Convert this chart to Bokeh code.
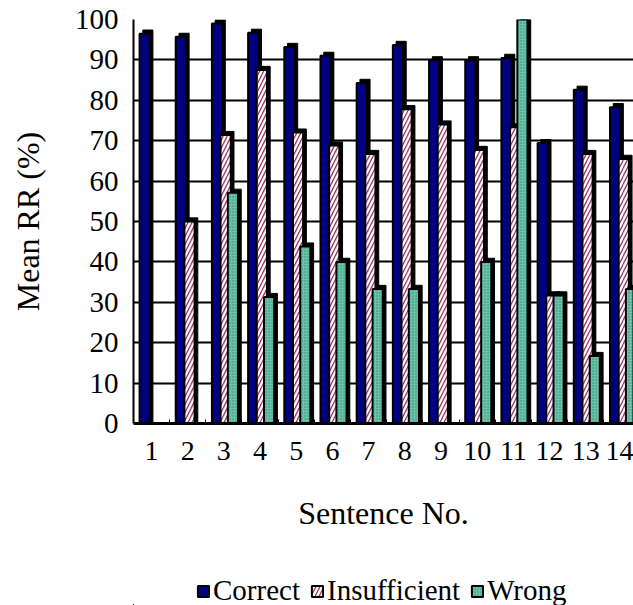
from bokeh.plotting import figure
from bokeh.layouts import column
from bokeh.models import ColumnDataSource, Range1d, FixedTicker, Legend, LegendItem
from bokeh.transform import dodge
from bokeh.embed import file_html
from bokeh.resources import INLINE

# ---- data ----
sentences = list(range(1, 15))
tick_labels = [str(s) for s in sentences]
correct = [96.5, 95.7, 99.0, 96.7, 93.2, 91.0, 84.3, 93.7, 89.9, 89.9, 90.5, 69.4, 82.6, 78.3]
insufficient = [0, 50.0, 71.4, 87.5, 72.0, 68.8, 66.7, 77.8, 74.0, 67.7, 73.3, 31.7, 66.7, 65.5]
wrong = [0, 0, 57.1, 31.3, 43.8, 40.0, 33.3, 33.3, 0, 40.0, 100.0, 31.7, 16.7, 33.3]
series_names = ["Correct", "Insufficient", "Wrong"]

FONT = "Liberation Serif"
DEPTH = 0.9  # 3-D depth in y units for the shadow face

def shadow(vals):
    return [v + DEPTH if v > 0 else 0 for v in vals]

src = ColumnDataSource(dict(
    x=sentences,
    correct=correct, insufficient=insufficient, wrong=wrong,
    correct_s=shadow(correct), insufficient_s=shadow(insufficient), wrong_s=shadow(wrong),
))

MAIN_H = 545
p = figure(width=633, height=MAIN_H, output_backend="svg", toolbar_location=None,
           x_range=Range1d(0.503, 14.32), y_range=Range1d(0, 100),
           min_border_left=133, min_border_right=0, min_border_top=19,
           min_border_bottom=MAIN_H - 423)
p.outline_line_color = None
p.background_fill_color = "white"
p.border_fill_color = "white"

# gridlines
p.xgrid.grid_line_color = None
p.ygrid.grid_line_color = "black"
p.ygrid.grid_line_width = 2
p.ygrid.ticker = FixedTicker(ticks=list(range(0, 101, 10)))

offsets = [-0.19, 0.05, 0.25]
W = 0.28
styles = [
    dict(fill_color="#000080"),
    dict(fill_color="white", hatch_pattern="/", hatch_color="#993366", hatch_weight=1.3, hatch_scale=8),
    dict(fill_color="#6cc2aa", hatch_pattern=".", hatch_color="#2a8f7a", hatch_scale=3, hatch_weight=1),
]
cols = ["correct", "insufficient", "wrong"]
for name, col, off, st in zip(series_names, cols, offsets, styles):
    p.vbar(x=dodge("x", off + 0.09, range=p.x_range), top=col + "_s", width=W, bottom=0,
           source=src, fill_color="black", line_color="black", line_width=1)
    p.vbar(x=dodge("x", off, range=p.x_range), top=col, width=W, bottom=0,
           source=src, line_color="black", line_width=2, **st)

# axes
yax = p.yaxis[0]
yax.ticker = FixedTicker(ticks=list(range(0, 101, 10)))
yax.axis_line_color = "black"
yax.axis_line_width = 2
yax.major_tick_in = 0
yax.major_tick_out = 0
yax.minor_tick_line_color = None
yax.major_label_standoff = 15
yax.major_label_text_font = FONT
yax.major_label_text_font_size = "29px"
yax.major_label_text_color = "black"
yax.axis_label = "Mean RR (%)"
yax.axis_label_text_font = FONT
yax.axis_label_text_font_size = "32px"
yax.axis_label_text_font_style = "normal"
yax.axis_label_text_color = "black"
yax.axis_label_standoff = 26

xax = p.xaxis[0]
xax.ticker = FixedTicker(ticks=sentences, minor_ticks=[s + 0.5 for s in [0] + sentences])
xax.major_label_overrides = {s: t for s, t in zip(sentences, tick_labels)}
xax.axis_line_color = "black"
xax.axis_line_width = 3
xax.major_tick_line_color = None
xax.minor_tick_in = 4
xax.minor_tick_out = 0
xax.minor_tick_line_color = "black"
xax.minor_tick_line_width = 1
xax.major_label_standoff = 12
xax.major_label_text_font = FONT
xax.major_label_text_font_size = "28px"
xax.major_label_text_color = "black"
xax.axis_label = "Sentence No."
xax.axis_label_text_font = FONT
xax.axis_label_text_font_size = "32px"
xax.axis_label_text_font_style = "normal"
xax.axis_label_text_color = "black"
xax.axis_label_standoff = 32

# ---- legend strip (separate figure, renderers share the data, out of view) ----
LEG_H = 605 - MAIN_H
pl = figure(width=633, height=LEG_H, output_backend="svg", toolbar_location=None,
            x_axis_location=None, y_axis_location=None,
            x_range=Range1d(100, 101), y_range=Range1d(1000, 1001),
            min_border_left=0, min_border_right=0, min_border_top=0, min_border_bottom=0)
pl.grid.grid_line_color = None
pl.outline_line_color = None
items = []
for name, col, st in zip(series_names, cols, styles):
    r = pl.vbar(x="x", top=col, width=W, bottom=0, source=src,
                line_color="black", line_width=2, **st)
    items.append(LegendItem(label=name, renderers=[r]))
legend = Legend(items=items, orientation="horizontal", location=(63, -2),
                label_text_font=FONT, label_text_font_size="29px", label_text_color="black",
                glyph_width=14, glyph_height=14, label_standoff=3, spacing=10,
                padding=0, margin=0, border_line_color=None, background_fill_alpha=0)
pl.add_layout(legend)

layout = column(p, pl, spacing=0)
open("out.html", "w").write(file_html(layout, INLINE))
